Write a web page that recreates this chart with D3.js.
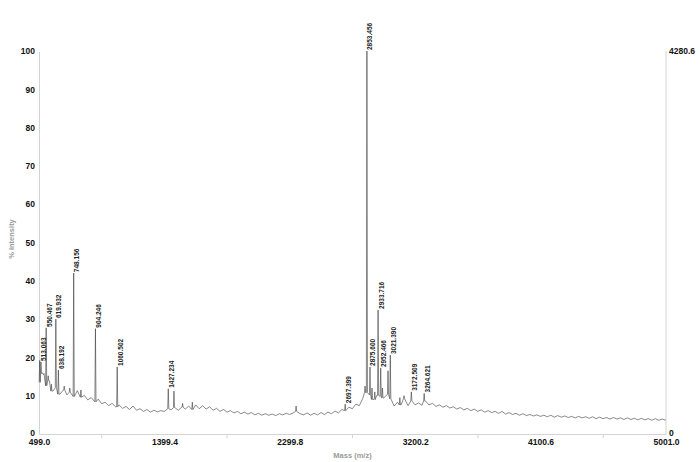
<!DOCTYPE html>
<html>
<head>
<meta charset="utf-8">
<script src="https://cdn.jsdelivr.net/npm/d3@7"></script>
<style>
	body { margin: 0; background: #fff; }
	svg { display: block; font-family: "Liberation Sans", Arial, sans-serif; }
</style>
</head>
<body>
<div id="chart"></div>
<script>
// spectrum baseline, sampled every 25 m/z starting at 499
var baseStart = 499,
	baseStep = 25;
var baseline = [
	13.5, 15.8, 12.6, 13.9, 11.2, 12.1, 10.4, 11.5, 10.2, 10.9,
	9.8, 11.3, 9.6, 10.1, 8.9, 9.5, 8.4, 9.1, 7.9, 8.3,
	7.4, 8.0, 7.1, 7.6, 6.7, 7.2, 6.4, 7.3, 6.2, 6.6,
	5.9, 6.4, 5.7, 6.2, 5.8, 6.1, 5.9, 6.6, 6.3, 6.9,
	6.2, 7.0, 6.5, 7.3, 6.4, 7.6, 6.6, 7.4, 6.5, 7.1,
	6.2, 6.7, 5.9, 6.4, 5.7, 6.1, 5.5, 5.9, 5.3, 5.7,
	5.2, 5.6, 5.0, 5.4, 4.9, 5.3, 4.9, 5.2, 4.8, 5.3,
	5.0, 5.4, 5.1, 5.5, 5.9, 5.3, 5.0, 5.5, 4.9, 5.4,
	5.0, 5.6, 5.1, 5.7, 5.3, 6.0, 5.5, 6.4, 6.1, 7.0,
	6.6, 7.8, 7.4, 9.3, 10.8, 10.2, 9.0, 10.1, 9.8, 9.4,
	10.3, 9.2, 7.3, 8.3, 7.6, 9.2, 7.4, 8.6, 7.6, 8.1,
	7.5, 8.6, 7.6, 8.0, 7.2, 7.6, 7.0, 7.4, 6.8, 7.1,
	6.5, 6.9, 6.3, 6.7, 6.1, 6.5, 5.9, 6.3, 5.7, 6.1,
	5.6, 5.9, 5.4, 5.9, 5.2, 5.6, 5.1, 5.4, 4.9, 5.3,
	4.8, 5.1, 4.7, 5.0, 4.6, 4.9, 4.5, 4.9, 4.4, 4.8,
	4.4, 4.7, 4.3, 4.6, 4.2, 4.6, 4.2, 4.5, 4.1, 4.5,
	4.0, 4.4, 4.0, 4.3, 3.9, 4.3, 3.9, 4.2, 3.8, 4.2,
	3.8, 4.1, 3.7, 4.1, 3.7, 4.0, 3.6, 4.0, 3.6, 3.9,
	3.6
];

// labelled peaks
var peakMass = [513.063, 550.467, 619.932, 638.192, 748.156, 904.246, 1060.502, 1427.234,
	2697.399, 2853.456, 2875.600, 2933.716, 2952.466, 3021.390, 3172.509, 3264.621];
var peakInt = [18.8, 27.7, 30.0, 16.7, 42.0, 27.5, 17.5, 11.8,
	7.8, 100, 17.5, 32.4, 17.2, 20.6, 11.0, 10.6];

// small unlabelled peaks
var minorMass = [504, 521, 531, 565, 588, 680, 720, 800, 1468, 1530, 1600, 2345, 2840, 2890, 2910, 2965, 3005, 3090, 3120];
var minorInt = [19.2, 16.0, 15.5, 15.2, 13.0, 12.5, 12.0, 11.5, 11.2, 8.0, 8.3, 7.3, 12.5, 12.0, 11.0, 12.0, 16.5, 9.5, 10.0];

var xTicks = [499.0, 1399.4, 2299.8, 3200.2, 4100.6, 5001.0];
var yTicks = [0, 10, 20, 30, 40, 50, 60, 70, 80, 90, 100];
var maxCounts = "4280.6";

var width = 700,
	height = 462;

var svg = d3.select("#chart")
	.append("svg")
	.attr("width", width)
	.attr("height", height);

var x = d3.scaleLinear()
	.domain([499, 5001])
	.range([39, 666]);

var y = d3.scaleLinear()
	.domain([0, 100])
	.range([434, 51]);

// build the trace: baseline samples + narrow spikes for each peak
var spikes = [];
peakMass.forEach(function(m, i) { spikes.push([m, peakInt[i]]); });
minorMass.forEach(function(m, i) { spikes.push([m, minorInt[i]]); });

var points = [];
baseline.forEach(function(v, i) {
	var m = baseStart + baseStep * i;
	var near = spikes.some(function(s) { return Math.abs(s[0] - m) < 6; });
	if (!near) points.push([m, v]);
});
spikes.forEach(function(s) {
	var b = baseline[Math.round((s[0] - baseStart) / baseStep)];
	points.push([s[0] - 4, b]);
	points.push([s[0], s[1]]);
	points.push([s[0] + 4, b]);
});
points.sort(function(a, b) { return a[0] - b[0]; });

var axisColor = "#d4d4d4";

// x axis
var xAxis = svg.append("g")
	.attr("transform", "translate(0," + y(0) + ")")
	.call(d3.axisBottom(x)
		.tickValues(xTicks)
		.tickFormat(d3.format(".1f"))
		.tickSize(0)
		.tickPadding(5));
xAxis.select(".domain").attr("stroke", axisColor);
xAxis.selectAll("text")
	.attr("fill", "#111")
	.style("font-size", "8.5px")
	.style("font-weight", "bold");

// minor x ticks
svg.selectAll(".xminor")
	.data(d3.range(499 + 450.2, 5001, 900.4))
	.enter().append("line")
	.attr("class", "xminor")
	.attr("x1", function(d) { return x(d); })
	.attr("x2", function(d) { return x(d); })
	.attr("y1", y(0))
	.attr("y2", y(0) + 4)
	.attr("stroke", axisColor);

// y axis
var yAxis = svg.append("g")
	.attr("transform", "translate(" + x(499) + ",0)")
	.call(d3.axisLeft(y)
		.tickValues(yTicks)
		.tickSize(0)
		.tickPadding(4));
yAxis.select(".domain").attr("stroke", axisColor);
yAxis.selectAll("text")
	.attr("fill", "#111")
	.style("font-size", "8.5px")
	.style("font-weight", "bold");
yAxis.selectAll("text").filter(function(d) { return d === 0; }).attr("dy", "0.2em");

// right axis
svg.append("line")
	.attr("x1", x(5001)).attr("x2", x(5001))
	.attr("y1", y(100)).attr("y2", y(0))
	.attr("stroke", axisColor);
svg.append("text")
	.attr("x", x(5001) + 3)
	.attr("y", y(100))
	.attr("dy", "0.32em")
	.attr("fill", "#111")
	.style("font-size", "8.5px")
	.style("font-weight", "bold")
	.text(maxCounts);
svg.append("text")
	.attr("x", x(5001) + 3)
	.attr("y", y(0))
	.attr("dy", "0.2em")
	.attr("fill", "#111")
	.style("font-size", "8.5px")
	.style("font-weight", "bold")
	.text("0");

// axis titles
svg.append("text")
	.attr("transform", "translate(14," + 239 + ") rotate(-90)")
	.attr("text-anchor", "middle")
	.attr("fill", "#9a9a9a")
	.style("font-size", "7.5px")
	.style("font-weight", "bold")
	.text("% Intensity");

svg.append("text")
	.attr("x", (x(499) + x(5001)) / 2)
	.attr("y", 458)
	.attr("text-anchor", "middle")
	.attr("fill", "#9a9a9a")
	.style("font-size", "7.5px")
	.style("font-weight", "bold")
	.text("Mass (m/z)");

// spectrum trace
var line = d3.line()
	.x(function(d) { return x(d[0]); })
	.y(function(d) { return y(d[1]); });

svg.append("path")
	.datum(points)
	.attr("fill", "none")
	.attr("stroke", "#3a3a3a")
	.attr("stroke-width", 0.6)
	.attr("d", line);

// peak labels
svg.selectAll(".plabel")
	.data(peakMass)
	.enter().append("text")
	.attr("class", "plabel")
	.attr("transform", function(d, i) {
		return "translate(" + (x(d) + 5.5) + "," + (y(peakInt[i]) - 1) + ") rotate(-90)";
	})
	.attr("fill", "#222")
	.style("font-size", "6.5px")
	.style("font-weight", "bold")
	.text(function(d) { return d3.format(".3f")(d); });
</script>
</body>
</html>
